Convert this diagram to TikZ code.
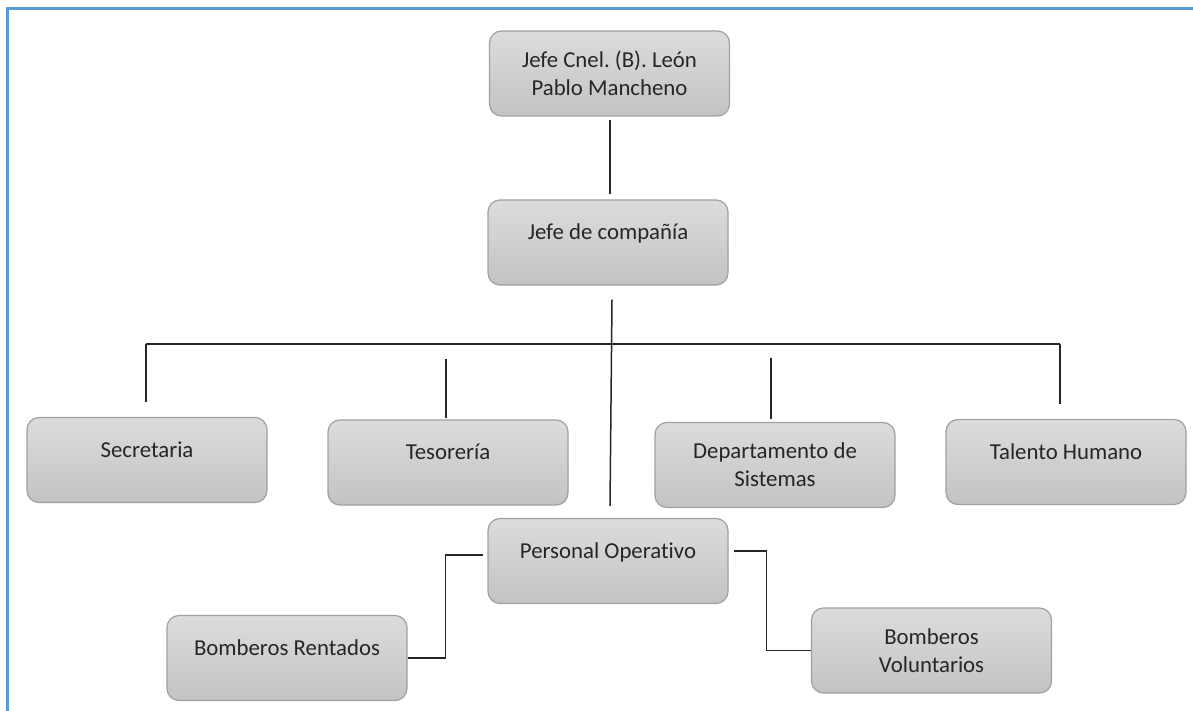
\documentclass[tikz,border=0pt]{standalone}
\usepackage{fontspec}
\setmainfont{Carlito}[Ligatures=NoCommon]
\frenchspacing
\usetikzlibrary{calc}
\definecolor{frameblue}{HTML}{5B9BD5}
\definecolor{boxline}{HTML}{A0A0A0}
\definecolor{boxtop}{HTML}{DCDCDC}
\definecolor{boxbot}{HTML}{C3C3C3}
\definecolor{txt}{HTML}{262626}
\begin{document}
\begin{tikzpicture}[x=0.5pt,y=-0.5pt,
  orgbox/.style={draw=boxline, line width=0.6pt, rounded corners=6pt, top color=boxtop, bottom color=boxbot,
    minimum width=120pt, minimum height=42.5pt, inner sep=0pt, align=center,
    font=\fontsize{11.4}{14}\selectfont, text=txt},
  oneline/.style={text height=8pt, text depth=10.6pt},
  conn/.style={draw=black!85, line width=0.75pt}]
\useasboundingbox (0,0) rectangle (1193,711);
\fill[white] (0,0) rectangle (1193,711);
\draw[frameblue, line width=1.5pt] (7,711) -- (7,9) -- (1193,9);

\node[orgbox] (jefe) at (609.5,73.5) {Jefe Cnel. (B). León\\Pablo Mancheno};
\node[orgbox,oneline] (comp) at (608,242.5) {Jefe de compañía};
\node[orgbox,oneline] (sec) at (147,460) {Secretaria};
\node[orgbox,oneline] (tes) at (448,462.5) {Tesorería};
\node[orgbox] (dep) at (775,465) {Departamento de\\Sistemas};
\node[orgbox,oneline] (tal) at (1066,462) {Talento Humano};
\node[orgbox,oneline] (per) at (608,561) {Personal Operativo};
\node[orgbox,oneline] (ren) at (287,658) {Bomberos Rentados};
\node[orgbox] (vol) at (931.5,650.5) {Bomberos\\Voluntarios};

\draw[conn] ($(jefe.south)+(0.5,3)$) -- ($(comp.north)+(2,-5)$);
\draw[conn] ($(comp.south)+(4,14)$) -- ($(per.north)+(2,-12)$);
\coordinate (busL) at (146,344);
\coordinate (busR) at (1060,344);
\draw[conn] (busL) -- (busR);
\draw[conn] (busL) -- ($(busL |- sec.north)+(0,-15)$);
\draw[conn] ($(tes.north)+(-2,-60)$) -- ($(tes.north)+(-2,-1)$);
\draw[conn] ($(dep.north)+(-4,-64)$) -- ($(dep.north)+(-4,-3)$);
\draw[conn] (busR) -- ($(busR |- tal.north)+(0,-15)$);
\draw[conn] (ren.east) -| ($(per.west)+(-42,-6)$) -- ($(per.west)+(-4,-6)$);
\draw[conn] (vol.west) -| ($(per.east)+(38,-10)$) -- ($(per.east)+(5,-10)$);
\end{tikzpicture}
\end{document}
